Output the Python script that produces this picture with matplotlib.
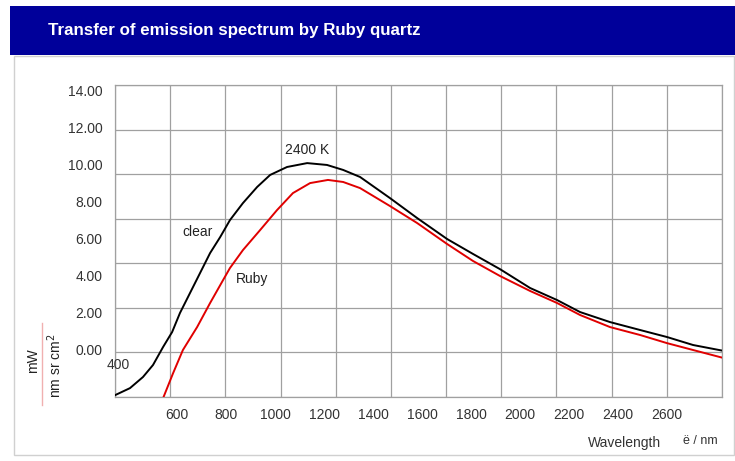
import matplotlib
matplotlib.use("Agg")
import matplotlib.pyplot as plt
from matplotlib.patches import Rectangle
from matplotlib.lines import Line2D
import numpy as np

plt.rcParams['font.family'] = ['Liberation Sans', 'DejaVu Sans']

# data (wavelength in nm, radiance in the axis units)
clear_wl = [347, 408, 461, 502, 543, 580, 612, 653, 694, 735, 776, 816, 869,
            927, 980, 1049, 1131, 1212, 1278, 1347, 1469, 1580, 1702, 1808,
            1918, 2041, 2151, 2245, 2367, 2490, 2600, 2706, 2824]
clear_val = [-2.49, -2.11, -1.51, -0.86, 0.11, 0.92, 1.95, 3.03, 4.11, 5.19,
             6.05, 6.97, 7.89, 8.76, 9.41, 9.84, 10.05, 9.95, 9.68, 9.30,
             8.16, 7.08, 5.95, 5.14, 4.32, 3.30, 2.65, 2.00, 1.46, 1.03,
             0.65, 0.22, -0.08]
ruby_wl = [545, 584, 624, 682, 735, 788, 816, 869, 939, 1008, 1073, 1143,
           1216, 1278, 1347, 1469, 1580, 1702, 1808, 1918, 2041, 2151, 2245,
           2367, 2490, 2600, 2706, 2824]
ruby_val = [-2.59, -1.30, -0.05, 1.19, 2.49, 3.73, 4.38, 5.35, 6.43, 7.51,
            8.43, 8.97, 9.14, 9.03, 8.70, 7.73, 6.81, 5.68, 4.76, 3.95, 3.14,
            2.49, 1.84, 1.19, 0.76, 0.32, -0.05, -0.46]

x_ticks = [600, 800, 1000, 1200, 1400, 1600, 1800, 2000, 2200, 2400, 2600]
y_ticks = [0, 2, 4, 6, 8, 10, 12, 14]
y_ticklabels = ['0.00', '2.00', '4.00', '6.00', '8.00', '10.00', '12.00', '14.00']

x_min, x_max = 347, 2824
y_min, y_max = -2.59, 14.27

fig = plt.figure(figsize=(7.35, 4.61), dpi=100)

# content frame + title bar
fig.patches.append(Rectangle((0.019, 0.013), 0.98, 0.866, transform=fig.transFigure,
                             facecolor='white', edgecolor='#d0d0d0', lw=1, zorder=0))
fig.patches.append(Rectangle((0.0136, 0.8807), 0.99, 0.1063, transform=fig.transFigure,
                             facecolor='#00009a', edgecolor='none', zorder=1))
fig.text(0.065, 0.933, 'Transfer of emission spectrum by Ruby quartz', color='white',
         fontsize=12.2, fontweight='bold', va='center', ha='left')

ax = fig.add_axes([0.1565, 0.1388, 0.8258, 0.6768])
ax.set_zorder(5)
ax.plot(clear_wl, clear_val, color='black', lw=1.4, zorder=3,
        solid_joinstyle='round')
ax.plot(ruby_wl, ruby_val, color='#e00000', lw=1.4, zorder=3,
        solid_joinstyle='round')

ax.set_xlim(x_min, x_max)
ax.set_ylim(y_min, y_max)

# labels and grid do not line up in the original, so gridlines sit on minor ticks
ax.set_xticks(x_ticks)
ax.set_yticks(y_ticks)
ax.set_yticklabels(y_ticklabels)
ax.set_xticks(np.linspace(x_min, x_max, 12), minor=True)
ax.set_yticks(np.linspace(y_min, y_max, 8), minor=True)
ax.grid(which='minor', color='#a0a0a0', lw=0.9)
ax.tick_params(which='both', length=0)
ax.tick_params(axis='y', pad=9, labelsize=10, labelcolor='#333333')
ax.tick_params(axis='x', pad=8, labelsize=10, labelcolor='#333333')
for s in ax.spines.values():
    s.set_color('#a0a0a0')
    s.set_linewidth(0.9)

ax.text(1131, 10.76, '2400 K', fontsize=10, ha='center', va='center', color='#222222')
ax.text(682, 6.32, 'clear', fontsize=10, ha='center', va='center', color='#222222')
ax.text(906, 3.78, 'Ruby', fontsize=10, ha='center', va='center', color='#222222')
ax.text(359, -0.86, '400', fontsize=10, ha='center', va='center', color='#333333')

# axis titles
fig.text(588 / 735, 1 - 443 / 461, 'Wavelength', fontsize=10, ha='left', va='center',
         color='#333333', zorder=6)
fig.text(683 / 735, 1 - 441 / 461, 'ë / nm', fontsize=9, ha='left', va='center',
         color='#333333', zorder=6)
fig.text(33 / 735, 1 - 361 / 461, 'mW', fontsize=10, rotation=90, ha='center',
         va='center', color='#222222', zorder=6)
fig.text(55 / 735, 1 - 366 / 461, 'nm sr cm$^2$', fontsize=10, rotation=90,
         ha='center', va='center', color='#222222', zorder=6)
fig.lines.append(Line2D([42 / 735, 42 / 735], [1 - 323 / 461, 1 - 405 / 461],
                        transform=fig.transFigure, color='#f0b0b0', lw=1, zorder=6))

fig.savefig('out.png', dpi=100)
